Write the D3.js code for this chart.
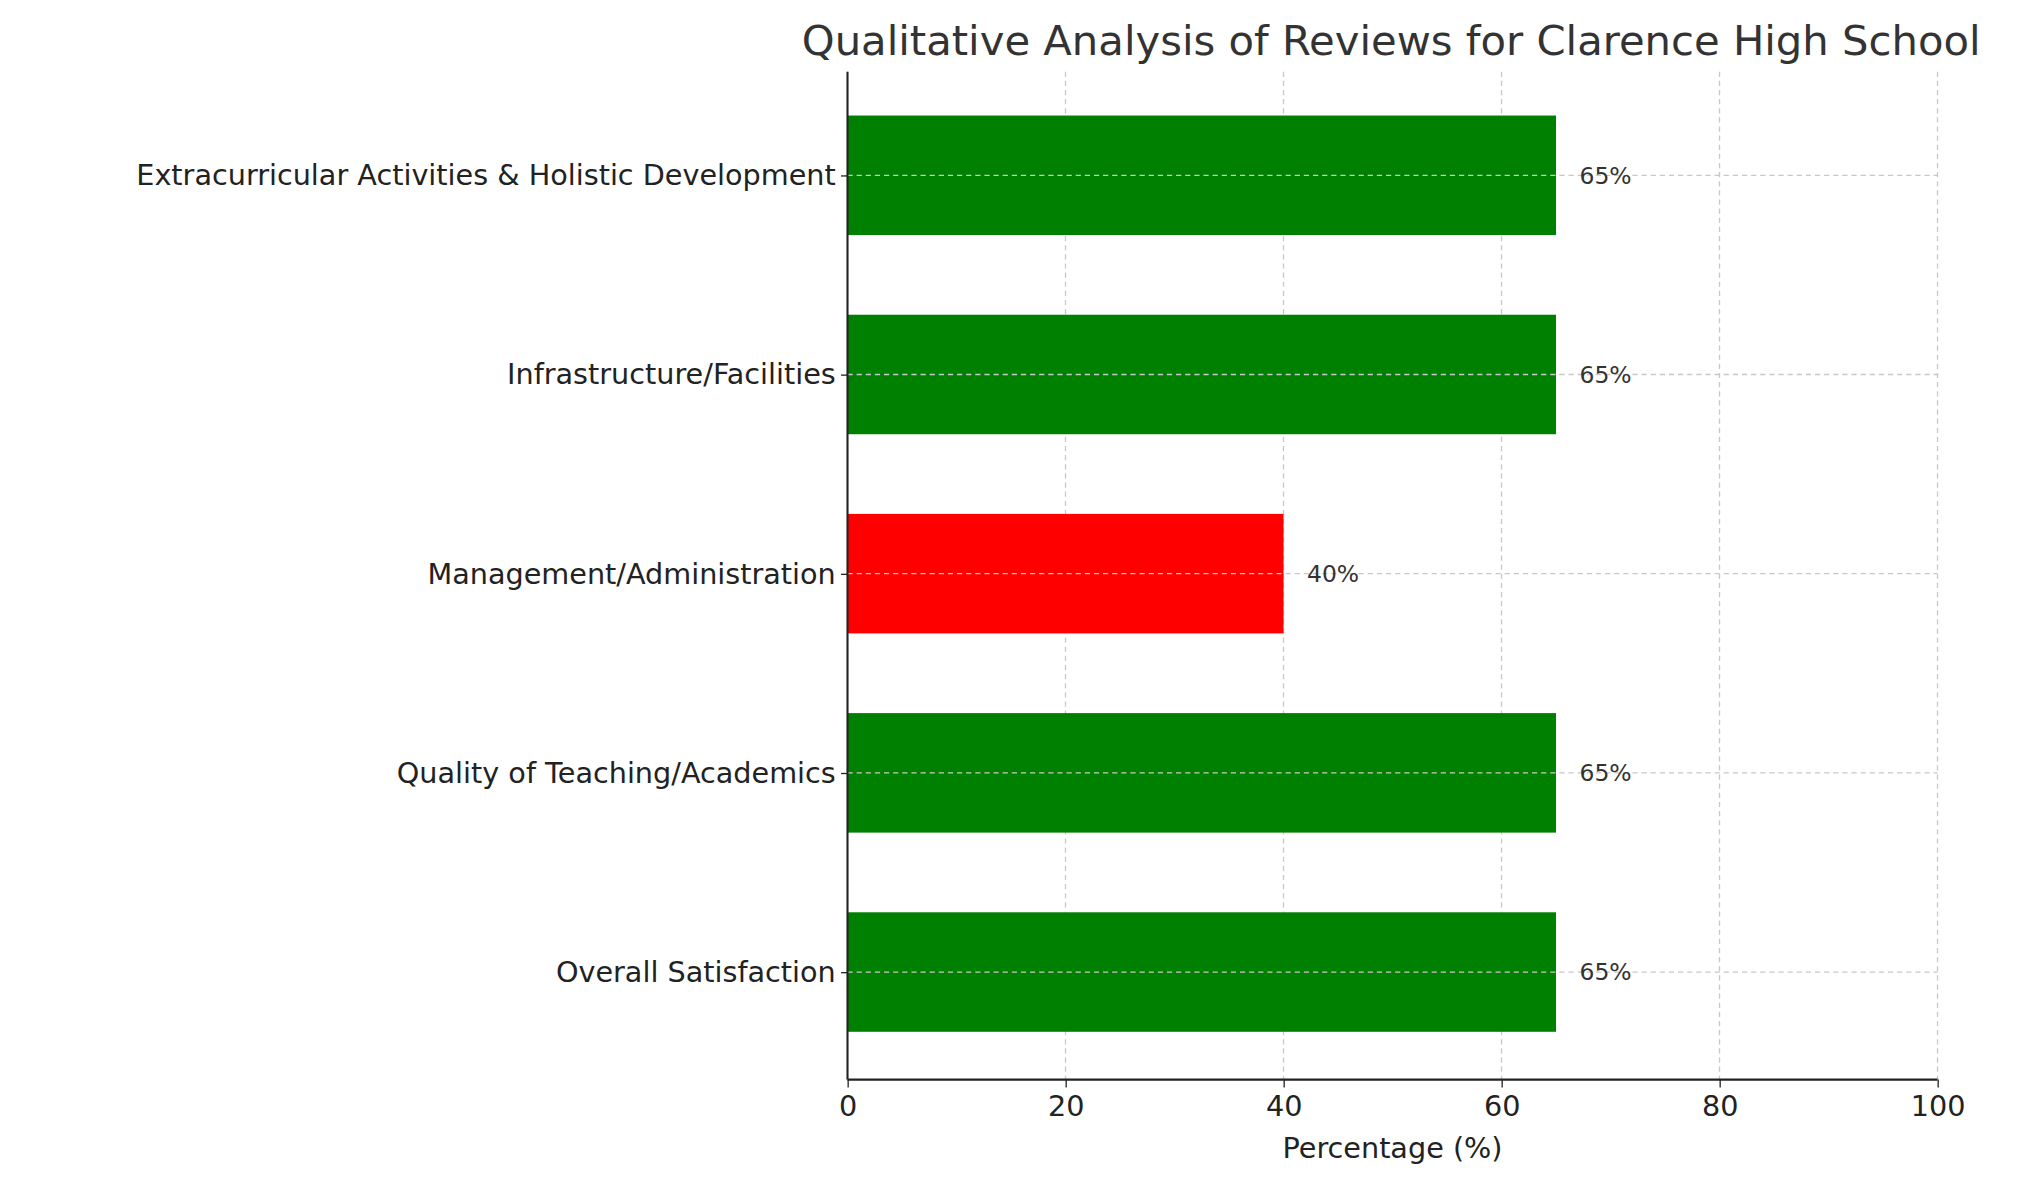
<!DOCTYPE html>
<html><head><meta charset="utf-8">
<script src="https://cdn.jsdelivr.net/npm/d3@7"></script>
<style>body{margin:0;background:#fff}svg{display:block}</style>
</head><body><div id="chart"></div>
<script>
const categories = ["Overall Satisfaction", "Quality of Teaching/Academics", "Management/Administration",
  "Infrastructure/Facilities", "Extracurricular Activities & Holistic Development"];
const values = [65, 65, 40, 65, 65];
const colors = ["green", "green", "red", "green", "green"];
const xTicks = [0, 20, 40, 60, 80, 100];

const W = 1560, H = 905;
const mLeft = 650, mRight = 1486, mTop = 55, mBottom = 828;

const svg = d3.select("#chart").append("svg")
  .attr("width", 2034).attr("height", 1180)
  .attr("viewBox", [0, 0, W, H])
  .attr("preserveAspectRatio", "none")
  .style("font-family", "DejaVu Sans");

const x = d3.scaleLinear().domain([0, 100]).range([mLeft, mRight]);
const y = d3.scaleLinear().domain([-0.54, 4.52]).range([mBottom, mTop]);
const barH = y(0) - y(0.6);

// grid
svg.append("g").selectAll("line").data(xTicks).join("line")
  .attr("x1", d => x(d)).attr("x2", d => x(d)).attr("y1", mTop).attr("y2", mBottom)
  .attr("stroke", "#c8c8c8").attr("stroke-dasharray", "4,3");

svg.append("g").selectAll("rect").data(values).join("rect")
  .attr("x", x(0)).attr("y", (d, i) => y(i) - barH / 2)
  .attr("width", d => x(d) - x(0)).attr("height", barH)
  .attr("fill", (d, i) => colors[i]);

svg.append("g").selectAll("line").data(categories).join("line")
  .attr("x1", x(0)).attr("x2", x(100)).attr("y1", (d, i) => y(i)).attr("y2", (d, i) => y(i))
  .attr("stroke", "#c8c8c8").attr("stroke-dasharray", "4,3");

// value labels
svg.append("g").selectAll("text").data(values).join("text")
  .attr("x", d => x(d) + 18).attr("y", (d, i) => y(i)).attr("dy", "0.35em")
  .attr("font-size", 18).attr("fill", "#333").text(d => d + "%");

// axes
const xAxis = svg.append("g").attr("transform", `translate(0,${mBottom})`)
  .call(d3.axisBottom(x).tickValues(xTicks).tickSize(6).tickPadding(6));
xAxis.select(".domain").remove();
xAxis.selectAll("text").attr("font-size", 22).attr("fill", "#222").style("font-family", "DejaVu Sans");
xAxis.selectAll("line").attr("stroke", "#222");
svg.append("line").attr("x1", mLeft).attr("x2", mRight).attr("y1", mBottom).attr("y2", mBottom).attr("stroke", "#222").attr("stroke-width", 1.6);

const yAxis = svg.append("g").attr("transform", `translate(${mLeft},0)`)
  .call(d3.axisLeft(y).tickValues(d3.range(categories.length)).tickFormat(i => categories[i]).tickSize(5).tickPadding(4));
yAxis.select(".domain").remove();
yAxis.selectAll("text").attr("font-size", 22).attr("fill", "#222").style("font-family", "DejaVu Sans");
yAxis.selectAll("line").attr("stroke", "#222");
svg.append("line").attr("x1", mLeft).attr("x2", mLeft).attr("y1", mTop).attr("y2", mBottom).attr("stroke", "#222").attr("stroke-width", 1.6);

svg.append("text").attr("x", x(50)).attr("y", 888).attr("text-anchor", "middle")
  .attr("font-size", 22).attr("fill", "#222").text("Percentage (%)");
svg.append("text").attr("x", 1067).attr("y", 42).attr("text-anchor", "middle")
  .attr("font-size", 32).attr("fill", "#333").text("Qualitative Analysis of Reviews for Clarence High School");
</script></body></html>
